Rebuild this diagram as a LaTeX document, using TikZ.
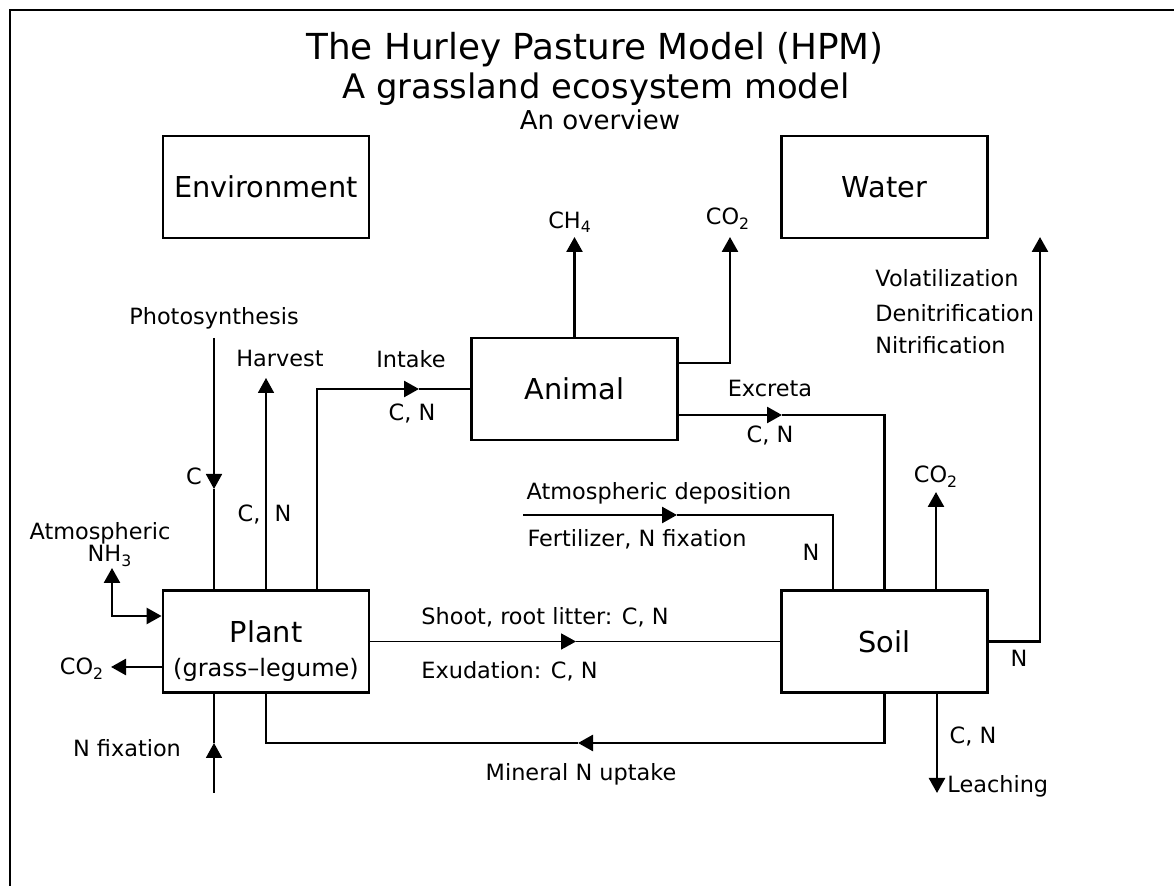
\documentclass[tikz,border=0pt]{standalone}
\usepackage{fontspec}
\setmainfont{DejaVu Sans}
\usetikzlibrary{arrows.meta}
\tikzset{
  box/.style={draw, line width=1.4pt, minimum width=103pt, minimum height=51pt,
    inner sep=0pt, font=\fontsize{14.4}{17}\selectfont},
  lbl/.style={inner sep=0pt, anchor=base, font=\fontsize{11.2}{13}\selectfont},
  flow/.style={line width=1.3pt},
  thinflow/.style={line width=0.9pt},
  arr/.style={-{Triangle[length=7.5pt,width=8pt]}},
}
\begin{document}
\begin{tikzpicture}[x=0.5pt,y=-0.5pt]
  \useasboundingbox (0,0) rectangle (1174,886);
  \draw [line width=1pt] (10,886) |- (1174,10);
  % title
  \node [anchor=base, font=\fontsize{17.9}{21}\selectfont] (title) at (595,60) {The Hurley Pasture Model (HPM)};
  \node [anchor=base, font=\fontsize{16.9}{20}\selectfont] (subtitle) at (596,99) {A grassland ecosystem model};
  \node [anchor=base, font=\fontsize{13}{15}\selectfont] (overview) at (600,130) {An overview};
  % compartments
  \node [box] (env) at (266,187) {Environment};
  \node [box] (water) at (884.5,187) {Water};
  \node [box] (animal) at (574.5,389) {Animal};
  \node [box] (plant) at (266,641.5) {};
  \node [anchor=base, font=\fontsize{14.4}{17}\selectfont] (plantname) at (266,643) {Plant};
  \node [lbl, font=\fontsize{12}{14}\selectfont] (plantkind) at (266,677) {(grass–legume)};
  \node [box] (soil) at (884.5,641.5) {Soil};
  % free ends
  \coordinate (photo) at (214,338);
  \coordinate (photom) at (214,489);
  \coordinate (harv) at (266,378);
  \coordinate (intk) at (419,389);
  \coordinate (ch4) at (574.5,237);
  \coordinate (aco2) at (730,237);
  \coordinate (excr) at (782,415);
  \coordinate (dep) at (523,515);
  \coordinate (depm) at (677,515);
  \coordinate (sco2) at (936,492);
  \coordinate (vol) at (1040,237);
  \coordinate (shoot) at (576,641.5);
  \coordinate (minm) at (578,743);
  \coordinate (leach) at (937,793);
  \coordinate (nfix) at (214,793);
  \coordinate (nfixm) at (214,743);
  \coordinate (pco2) at (111,667);
  \coordinate (nh3) at (112,568);
  % plant fluxes
  \draw [thinflow,arr] (photo) -- (photom);
  \draw [thinflow] (photom) -- (plant.north -| photo);
  \node [lbl] (photolbl) at (214,325) {Photosynthesis};
  \node [lbl] (photoc) at (194,485) {C};
  \draw [thinflow,arr] (plant.north) -- (harv);
  \node [lbl] (harvlbl) at (280,367) {Harvest};
  \node [lbl] (harvc) at (249,522) {C,};
  \node [lbl] (harvn) at (283,522) {N};
  \draw [flow,arr] (plant.north -| 317,0) |- (intk);
  \draw [thinflow] (intk) -- (animal.west);
  \node [lbl] (intklbl) at (411,368) {Intake};
  \node [lbl] (intkcn) at (412,421) {C, N};
  \draw [thinflow,arr] (nfix) -- (nfixm);
  \draw [thinflow] (nfixm) -- (plant.south -| nfix);
  \node [lbl] (nfixlbl) at (127,757) {N fixation};
  \draw [flow,arr] (plant.west |- pco2) -- (pco2);
  \node [lbl] (pco2lbl) at (82,675) {CO\textsubscript{2}};
  \draw [flow,{Triangle[length=7.5pt,width=8pt]}-{Triangle[length=7.5pt,width=8pt]}] (nh3) |- (plant.west |- 0,616);
  \node [lbl] (atmlbl) at (100,540) {Atmospheric};
  \node [lbl] (nh3lbl) at (110,562) {NH\textsubscript{3}};
  % animal fluxes
  \draw [flow,arr] (animal.north) -- (ch4);
  \node [lbl] (ch4lbl) at (570,229) {CH\textsubscript{4}};
  \draw [flow,arr] (animal.east |- 0,363) -| (aco2);
  \node [lbl] (aco2lbl) at (728,225) {CO\textsubscript{2}};
  \draw [flow,arr] (animal.east |- excr) -- (excr);
  \draw [flow] (excr) -| (soil.north);
  \node [lbl] (excrlbl) at (770,397) {Excreta};
  \node [lbl] (excrcn) at (770,443) {C, N};
  % soil fluxes
  \draw [flow,arr] (dep) -- (depm);
  \draw [flow] (depm) -| (soil.north -| 833,0);
  \node [lbl] (deplbl) at (659,500) {Atmospheric deposition};
  \node [lbl] (fertlbl) at (637,547) {Fertilizer, N fixation};
  \node [lbl] (depn) at (811,561) {N};
  \draw [flow,arr] (soil.north -| sco2) -- (sco2);
  \node [lbl] (sco2lbl) at (936,483) {CO\textsubscript{2}};
  \draw [flow,arr] (soil.east) -| (vol);
  \node [lbl] (voln) at (1019,667) {N};
  \node [lbl, anchor=base west] (vollbl) at (875,287) {Volatilization};
  \node [lbl, anchor=base west] (denlbl) at (875,322) {Denitrification};
  \node [lbl, anchor=base west] (nitlbl) at (875,354) {Nitrification};
  \draw [thinflow,arr] (plant.east) -- (shoot);
  \draw [thinflow] (shoot) -- (soil.west);
  \node [lbl, anchor=base west] (shootlbl) at (421,625) {Shoot, root litter: C, N};
  \node [lbl, anchor=base west] (exudlbl) at (421,679) {Exudation: C, N};
  \draw [flow,arr] (soil.south) |- (minm);
  \draw [flow] (minm) -| (plant.south);
  \node [lbl] (minlbl) at (581,781) {Mineral N uptake};
  \draw [flow,arr] (soil.south -| leach) -- (leach);
  \node [lbl] (leachcn) at (973,744) {C, N};
  \node [lbl, anchor=base west] (leachlbl) at (947,793) {Leaching};
\end{tikzpicture}
\end{document}
